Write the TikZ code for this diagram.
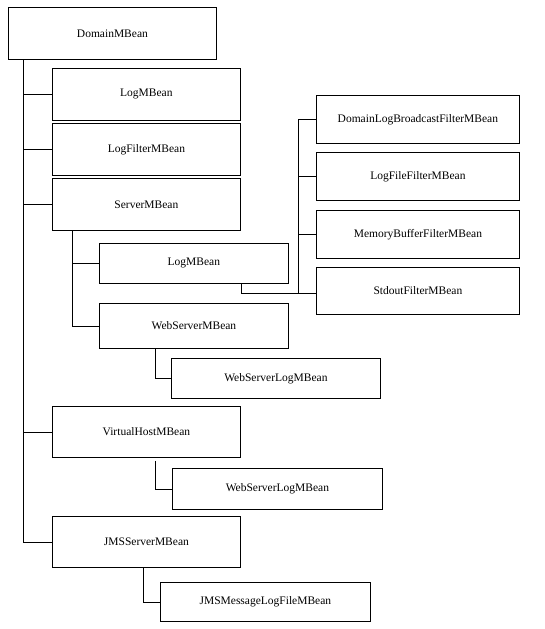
\documentclass[tikz,border=0pt]{standalone}
\usepackage{fontspec}
\setmainfont{Liberation Serif}
\begin{document}
\begin{tikzpicture}[x=1pt,y=-1pt,
        mbean/.style={draw, line width=0.8pt, inner sep=0pt, anchor=north west,
          font=\fontsize{11.5}{13}\selectfont},
        link/.style={line width=0.8pt}]
        \useasboundingbox (0,0) rectangle (544,629);
        % left column
        \node[mbean, minimum width=208pt, minimum height=52pt] (domain) at (8,7) {DomainMBean};
        \node[mbean, minimum width=188pt, minimum height=52pt] (log) at (52,68) {LogMBean};
        \node[mbean, minimum width=188pt, minimum height=52pt] (logfilter) at (52,123) {LogFilterMBean};
        \node[mbean, minimum width=188pt, minimum height=52pt] (server) at (52,178) {ServerMBean};
        \node[mbean, minimum width=189pt, minimum height=40pt] (slog) at (99,243) {LogMBean};
        \node[mbean, minimum width=189pt, minimum height=45pt] (wsrv) at (99,303) {WebServerMBean};
        \node[mbean, minimum width=209pt, minimum height=40pt] (wslogA) at (171,358) {WebServerLogMBean};
        \node[mbean, minimum width=188pt, minimum height=51pt] (vhost) at (52,406) {VirtualHostMBean};
        \node[mbean, minimum width=210pt, minimum height=41pt] (wslogB) at (172,468) {WebServerLogMBean};
        \node[mbean, minimum width=188pt, minimum height=51pt] (jms) at (52,516) {JMSServerMBean};
        \node[mbean, minimum width=210pt, minimum height=39pt] (jmslog) at (160,582) {JMSMessageLogFileMBean};
        % filters
        \node[mbean, minimum width=203pt, minimum height=48pt] (bcast) at (316,95) {DomainLogBroadcastFilterMBean};
        \node[mbean, minimum width=203pt, minimum height=48pt] (logfile) at (316,152) {LogFileFilterMBean};
        \node[mbean, minimum width=203pt, minimum height=48pt] (membuf) at (316,210) {MemoryBufferFilterMBean};
        \node[mbean, minimum width=203pt, minimum height=47pt] (stdout) at (316,267) {StdoutFilterMBean};
        % trunk of DomainMBean
        \coordinate (trunk) at ([xshift=15pt]domain.south west);
        \draw[link] (trunk) |- (jms.west);
        \foreach \n in {log,logfilter,server,vhost}
        \draw[link] (trunk |- \n.west) -- (\n.west);
        % trunk of ServerMBean
        \coordinate (strunk) at ([xshift=20pt]server.south west);
        \draw[link] (strunk) |- (wsrv.west);
        \draw[link] (strunk |- slog.west) -- (slog.west);
        % trunk of the filters
        \coordinate (ftrunk) at ([xshift=-18pt]bcast.west);
        \coordinate (sjoin) at ([yshift=-2pt]stdout.west);
        \draw[link] (bcast.west) -- (ftrunk) -- (ftrunk |- sjoin) -- (sjoin);
        \foreach \n in {logfile,membuf}
        \draw[link] (ftrunk |- \n.west) -- (\n.west);
        \draw[link] ([xshift=47pt]slog.south) |- (sjoin);
        % log beans below
        \draw[link] ([xshift=56pt]wsrv.south west) |- (wslogA.west);
        \draw[link] ([shift={(103pt,-3pt)}]vhost.south west) |- (wslogB.west);
        \draw[link] ([xshift=91pt]jms.south west) |- (jmslog.west);
\end{tikzpicture}
\end{document}
